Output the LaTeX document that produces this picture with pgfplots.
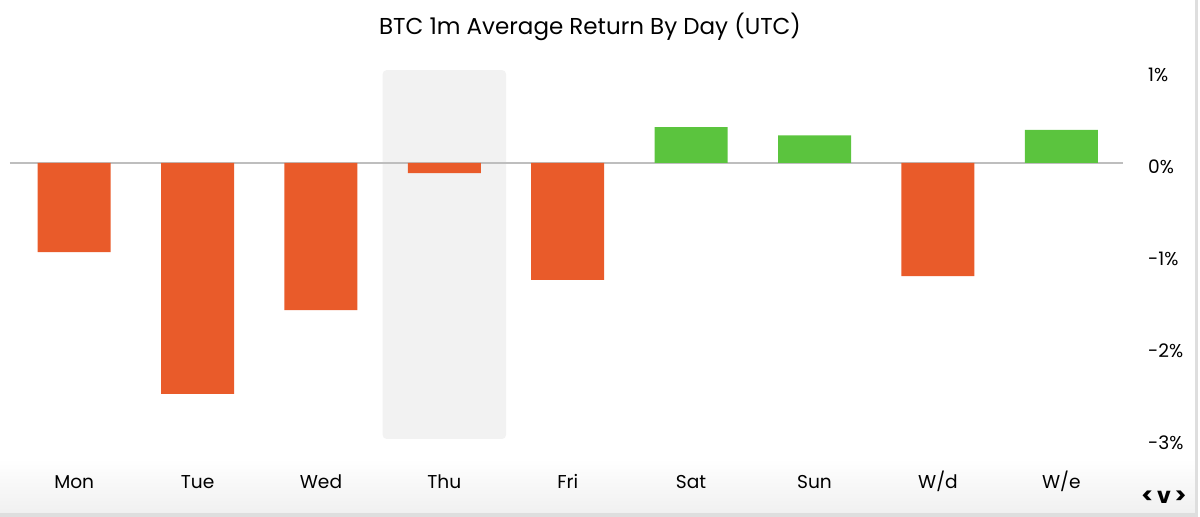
\documentclass[border=0pt]{standalone}
\usepackage{pgfplots}
\pgfplotsset{compat=1.18}
\usepackage{fontspec}
\setmainfont{Poppins}
\definecolor{barred}{RGB}{233,91,42}
\definecolor{bargreen}{RGB}{91,196,62}
\definecolor{band}{RGB}{242,242,242}
\definecolor{zeroline}{RGB}{190,190,190}
\definecolor{frame}{RGB}{222,222,222}
\begin{document}
\begin{tikzpicture}
\useasboundingbox (0pt,0pt) rectangle (600pt,258.5pt);
% bottom fade and frame
\shade[top color=white, bottom color=frame!45] (0pt,2pt) rectangle (598pt,29pt);
\fill[frame] (0pt,0pt) rectangle (598pt,2.2pt);
\fill[frame] (597.6pt,0pt) rectangle (599.2pt,258.5pt);
\node[font=\fontsize{11.5}{14}\selectfont] at (295pt,245pt) {BTC 1m Average Return By Day (UTC)};
\node[font=\fontsize{11}{13}\selectfont\bfseries] at (582pt,10pt) {<\,v\,>};
\begin{axis}[
  at={(5pt,39pt)}, anchor=south west,
  scale only axis, width=556.5pt, height=184pt,
  xmin=-0.52, xmax=8.5, ymin=-3, ymax=1,
  clip=false,
  axis line style={draw=none},
  major tick length=0pt,
  xtick={0,...,8},
  xticklabels={Mon,Tue,Wed,Thu,Fri,Sat,Sun,W/d,W/e},
  ytick={-3,-2,-1,0,1},
  yticklabels={-3\%,-2\%,-1\%,0\%,1\%},
  yticklabel pos=right,
  yticklabel style={anchor=west, xshift=9pt, yshift=-1.8pt, font=\fontsize{9.3}{11}\selectfont},
  xticklabel style={anchor=base, yshift=-25pt, font=\fontsize{9.3}{11}\selectfont},
]
\fill[band, rounded corners=2pt] (axis cs:2.5,-3) rectangle (axis cs:3.5,1.01);
\addplot[zeroline, line width=0.8pt] coordinates {(-0.52,0) (8.5,0)};
\addplot[ybar, bar width=36.5pt, fill=barred, draw=none] coordinates {
  (0,-0.97) (1,-2.51) (2,-1.60) (3,-0.11) (4,-1.27) (7,-1.23)};
\addplot[ybar, bar width=36.5pt, fill=bargreen, draw=none] coordinates {
  (5,0.39) (6,0.30) (8,0.36)};
\end{axis}
\end{tikzpicture}
\end{document}
